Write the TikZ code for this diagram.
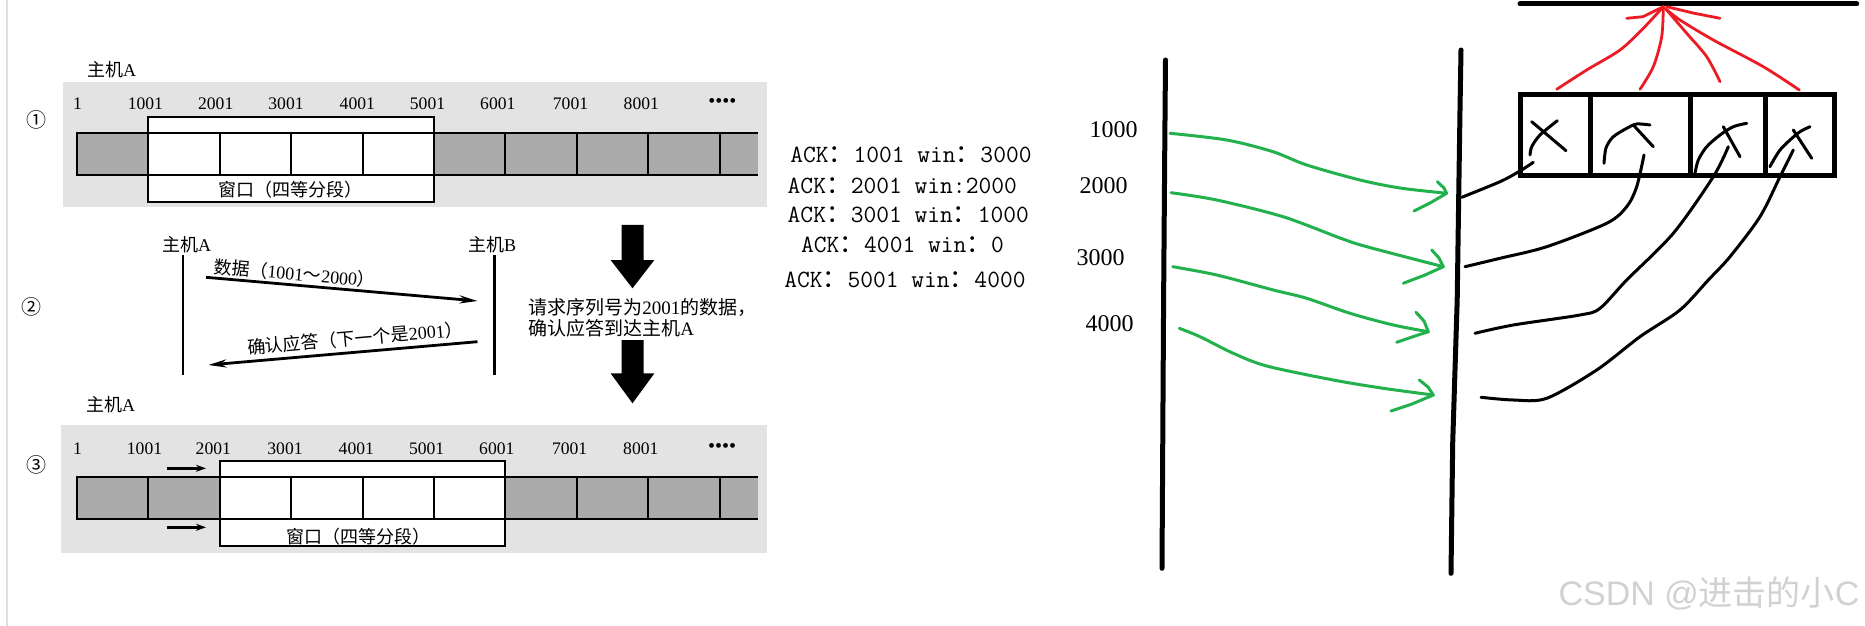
\documentclass[tikz,border=0pt]{standalone}
\usepackage{fontspec}
\setmainfont{Liberation Serif}
\setsansfont{Liberation Sans}
\newfontfamily\cjk{Noto Sans CJK SC}
\usetikzlibrary{arrows.meta}
\definecolor{pgreen}{HTML}{22B14C}
\definecolor{pred}{HTML}{ED1C24}
\definecolor{bggray}{HTML}{E3E3E3}
\definecolor{cellgray}{HTML}{ABABAB}
\newcommand\rmd[1]{{\rmfamily #1}}
\begin{document}
\begin{tikzpicture}[x=0.5pt,y=-0.5pt,
  num/.style={font=\fontsize{8.8pt}{8.8pt}\selectfont, inner sep=0pt},
  cj/.style={font=\fontsize{9pt}{9pt}\selectfont\cjk, inner sep=0pt},
  desc/.style={font=\fontsize{9.5pt}{9.5pt}\selectfont\cjk, inner sep=0pt, anchor=west},
  circ/.style={font=\fontsize{10pt}{10pt}\selectfont\cjk, inner sep=0pt},
  ack/.style={font=\fontsize{12.4pt}{12.4pt}\selectfont\ttfamily\addfontfeature{FakeBold=1.2}, inner sep=0pt, anchor=west},
  lbl/.style={font=\fontsize{12pt}{12pt}\selectfont, inner sep=0pt, anchor=east},
  barline/.style={line width=1pt},
  seqarrow/.style={line width=1.4pt, -{Stealth[length=9pt,width=4pt]}},
  smallarrow/.style={line width=1.3pt, -{Stealth[length=5pt,width=3.5pt]}},
  axis/.style={line width=2.5pt, line cap=round, line join=round},
  gstroke/.style={pgreen, line width=1.5pt, line cap=round, line join=round},
  kstroke/.style={black, line width=1.5pt, line cap=round, line join=round},
  rstroke/.style={pred, line width=1.4pt, line cap=round, line join=round}
]
\useasboundingbox (0,0) rectangle (1865,626);
\fill[white] (0,0) rectangle (1865,626);
\draw[black!12, line width=1pt] (7,0) -- (7,626);

% ---------------- panel 1 ----------------
\fill[bggray] (63,81.7) rectangle (767,206.7);
\fill[cellgray] (77,133.3) rectangle (758,175);
\filldraw[fill=white, draw=black, barline] (148.4,117.3) rectangle (433.9,201.7);
\draw[barline] (758,133.3) -- (77,133.3) -- (77,175) -- (758,175);
\foreach \x in {219.8,291.2,362.6,505.4,576.8,648.2,719.6}
  \draw[barline] (\x,133.3) -- (\x,175);
\node[cj] (hostA1) at (111.5,70) {主机\rmd{A}};
\node[circ] (c1) at (36.4,120) {①};
\foreach \t/\x [count=\i] in {1/77.6,1001/145.4,2001/215.7,3001/286,4001/357.3,5001/427.5,6001/497.8,7001/570.5,8001/641.3}
  \node[num] (pa\i) at (\x,103.3) {\t};
\node[num, font=\fontsize{10pt}{10pt}\selectfont] (dots1) at (722.3,103.3) {\textbullet\textbullet\textbullet\textbullet};
\node[cj] (win1) at (290,190) {窗口（四等分段）};

% ---------------- panel 2 ----------------
\node[cj] (hA) at (186.6,245) {主机\rmd{A}};
\node[cj] (hB) at (492,245) {主机\rmd{B}};
\coordinate (Atop) at (183.2,255); \coordinate (Abot) at (183.2,375);
\coordinate (Btop) at (494.4,255); \coordinate (Bbot) at (494.4,375);
\draw[line width=1.25pt] (Atop) -- (Abot);
\draw[line width=1.25pt] (Btop) -- (Bbot);
\coordinate (d1) at (206,277.3); \coordinate (d2) at (477.5,301);
\coordinate (k1) at (477.5,341.7); \coordinate (k2) at (208.4,365);
\draw[seqarrow] (d1) -- (d2);
\draw[seqarrow] (k1) -- (k2);
\node[cj, rotate=-5] (dlab) at (294.5,273.3) {数据（\rmd{1001}～\rmd{2000}）};
\node[cj, rotate=5] (klab) at (355,338.3) {确认应答（下一个是\rmd{2001}）};
\node[circ] (c2) at (31.5,307.3) {②};
\node[desc] (desc1) at (528,307.3) {请求序列号为\rmd{2001}的数据，};
\node[desc] (desc2) at (528,328.3) {确认应答到达主机\rmd{A}};
\fill (621.5,225) -- (643.5,225) -- (643.5,260) -- (654.4,260) -- (632.5,288.3) -- (610.6,260) -- (621.5,260) -- cycle;
\fill (621.5,340) -- (643.5,340) -- (643.5,373.3) -- (654.4,373.3) -- (632.5,403.3) -- (610.6,373.3) -- (621.5,373.3) -- cycle;

% ---------------- panel 3 ----------------
\fill[bggray] (60.6,425) rectangle (767,553.3);
\fill[cellgray] (77,477.3) rectangle (758,519.3);
\filldraw[fill=white, draw=black, barline] (219.8,461) rectangle (505.3,545.7);
\draw[barline] (758,477.3) -- (77,477.3) -- (77,519.3) -- (758,519.3);
\foreach \x in {148.4,291.2,362.6,434,576.8,648.2,719.6}
  \draw[barline] (\x,477.3) -- (\x,519.3);
\node[cj] (hostA3) at (110.5,405) {主机\rmd{A}};
\node[circ] (c3) at (36.4,465) {③};
\foreach \t/\x [count=\i] in {1/77.6,1001/144.5,2001/213.3,3001/285,4001/356.3,5001/426.6,6001/496.8,7001/569.6,8001/640.8}
  \node[num] (pc\i) at (\x,448.3) {\t};
\node[num, font=\fontsize{10pt}{10pt}\selectfont] (dots3) at (722.2,448.3) {\textbullet\textbullet\textbullet\textbullet};
\node[cj] (win3) at (358,536.7) {窗口（四等分段）};
\coordinate (s1a) at (167,468.3); \coordinate (s1b) at (206,468.3);
\coordinate (s2a) at (167,527.3); \coordinate (s2b) at (206,527.3);
\draw[smallarrow] (s1a) -- (s1b);
\draw[smallarrow] (s2a) -- (s2b);

% ---------------- ACK text ----------------
\node[ack] (ack1) at (790,155) {ACK{\cjk ：}1001 win{\cjk ：}3000};
\node[ack] (ack2) at (787.3,186) {ACK{\cjk ：}2001 win:2000};
\node[ack] (ack3) at (787.3,215) {ACK{\cjk ：}3001 win{\cjk ：}1000};
\node[ack] (ack4) at (800.7,245) {ACK{\cjk ：}4001 win{\cjk ：}0};
\node[ack] (ack5) at (784,279.3) {ACK{\cjk ：}5001 win{\cjk ：}4000};

% ---------------- right sketch ----------------
\draw[axis] (1520,4) -- (1856.7,4);
\draw[axis] (1165.5,60) -- (1164.8,143) -- (1163.6,300) -- (1162,568.3);
\draw[axis] (1461,50) -- (1460,110) -- (1458.7,197) -- (1457.2,300) -- (1452.7,443) -- (1451,573.3);
\node[lbl] (l1000) at (1138,130) {1000};
\node[lbl] (l2000) at (1128,186) {2000};
\node[lbl] (l3000) at (1125,257.5) {3000};
\node[lbl] (l4000) at (1134,323.5) {4000};

% green arrows
\draw[gstroke] plot[smooth, tension=0.5] coordinates {(1170,133.3) (1226.7,140) (1273,151.7) (1306.7,165) (1360,180) (1400,188) (1446.7,193.3)};
\draw[gstroke] (1437.3,181.7) -- (1444,188) -- (1446.7,193.3) -- (1430,203) -- (1414,211);
\draw[gstroke] plot[smooth, tension=0.5] coordinates {(1171,192.7) (1216.7,200) (1283,216.7) (1340,238) (1366.7,246.7) (1443.3,266.7)};
\draw[gstroke] (1431.7,250) -- (1439,258) -- (1443.3,266.7) -- (1425,275) -- (1403.3,283.3);
\draw[gstroke] plot[smooth, tension=0.5] coordinates {(1172.7,266.7) (1216.7,275) (1273.3,290) (1306.7,298.3) (1350,313.3) (1393.3,325) (1428.3,331.7)};
\draw[gstroke] (1416,312.3) -- (1424,321) -- (1428.3,331.7) -- (1412,337) -- (1396.7,342.3);
\draw[gstroke] plot[smooth, tension=0.5] coordinates {(1179.3,328.3) (1200,336.7) (1233.3,353.3) (1266.7,366) (1333.3,380) (1383.3,388.3) (1433.3,395)};
\draw[gstroke] (1419.3,380) -- (1428,387) -- (1433.3,395) -- (1412,404) -- (1391,411);

% box
\draw[line width=2.5pt] (1520,95) rectangle (1834,176);
\foreach \x in {1590,1690,1765} \draw[line width=2.5pt] (\x,95) -- (\x,176);

% red strokes
\draw[rstroke] plot[smooth, tension=0.5] coordinates {(1556.7,89.3) (1586.7,70) (1620,50) (1643.3,28.3) (1663.3,6.7)};
\draw[rstroke] plot[smooth, tension=0.5] coordinates {(1640,89.3) (1653.3,66.7) (1661.7,36.7) (1663.3,6.7)};
\draw[rstroke] plot[smooth, tension=0.5] coordinates {(1720,81.7) (1706.7,56.7) (1686.7,33.3) (1666.7,10)};
\draw[rstroke] plot[smooth, tension=0.5] coordinates {(1799.3,90) (1763.3,66.7) (1713.3,40) (1680,20) (1665,8.3)};
\draw[rstroke] (1626.7,18.3) -- (1643,16.7) -- (1663.3,6.7);
\draw[rstroke] (1666.7,6.7) -- (1693,13) -- (1720,18.3);

% X marks
\draw[kstroke] (1531.7,121.7) -- (1566,150.7);
\draw[kstroke] plot[smooth, tension=0.5] coordinates {(1557.3,120.7) (1540,135) (1531.7,146.7) (1530,155)};
\draw[kstroke] plot[smooth, tension=0.5] coordinates {(1604,163.3) (1606,148) (1613,137) (1626.7,128.3) (1636.7,124) (1650,125)};
\draw[kstroke] (1633.3,125) -- (1653.3,146.7);
\draw[kstroke] plot[smooth, tension=0.5] coordinates {(1746.7,123.3) (1733.3,126.7) (1720,135) (1706.7,146.7) (1698.3,160) (1695,173.3)};
\draw[kstroke] (1723.3,126.7) -- (1740,156.7);
\draw[kstroke] plot[smooth, tension=0.5] coordinates {(1810,126.7) (1800,131.7) (1790,140) (1780,150) (1771.7,163.3) (1770,166.7)};
\draw[kstroke] (1793.3,130) -- (1811.7,158.3);

% black connecting curves
\draw[kstroke] plot[smooth, tension=0.5] coordinates {(1461.7,197.3) (1500,181.7) (1520,171) (1533.3,162.3)};
\draw[kstroke] plot[smooth, tension=0.5] coordinates {(1465,266.7) (1500,258.3) (1546.7,246.7) (1606.7,223.3) (1626.7,206.7) (1636.7,186.7) (1644,155)};
\draw[kstroke] plot[smooth, tension=0.5] coordinates {(1475,333.3) (1513.3,325) (1580,315) (1600,308.3) (1626.7,280) (1673.3,233.3) (1713.3,176.7) (1728.3,146.7)};
\draw[kstroke] plot[smooth, tension=0.5] coordinates {(1481,397.3) (1513.3,400) (1546.7,398.3) (1596.7,370) (1640,336.7) (1680,310) (1708.3,280) (1730,256.7) (1760,216.7) (1780,176.7) (1793.3,150)};

% watermark
\node[font=\fontsize{17pt}{17pt}\selectfont\sffamily, text=black!18, inner sep=0pt] (wm) at (1709,593) {CSDN @{\cjk 进击的小}C};
\end{tikzpicture}
\end{document}
